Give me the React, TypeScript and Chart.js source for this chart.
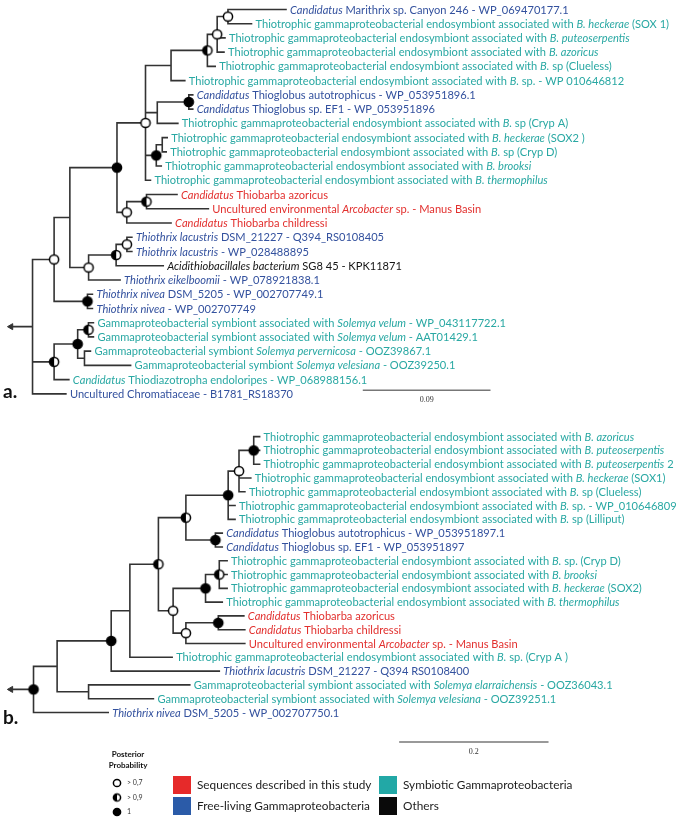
import { useEffect, useRef } from 'react';
import { Chart, registerables } from 'chart.js';
Chart.register(...registerables);

// ---------------- DATA ----------------
const TG = 'Thiotrophic gammaproteobacterial endosymbiont associated with ';
const GS = 'Gammaproteobacterial symbiont ';

// Tree a (Newick; tips = index into treeALabels; node labels = posterior class o:>0.7 h:>0.9 f:1)
const treeANewick = `(
 ((
   (
    (
     ((((0:0.0409,1:0.0166)o:0.0076,2:0.0055,3:0.0048)o:0.0069,4:0.0055)h:0.0256,5:0.0097):0.0180,
     ((6:0.0028,7:0.0028)f:0.0222,8:0.0145):0.0083,
     ((9:0.0035,10:0.0028):0.0042,11:0.0035)f:0.0076,
     12:0.0035
    )o:0.0201,
    ((13:0.0215,14:0.0436)h:0.0139,15:0.0312)o:0.0069
   )f:0.0332,
   (((16:0.0035,17:0.0035)o:0.0076,18:0.0332)h:0.0194,19:0.0222)o:0.0132
  ):0.0111,
  (20:0.0035,21:0.0035)f:0.0235
 )o:0.0152,
 (((22:0.0035,23:0.0035)h:0.0076,(24:0.0042,25:0.0325):0.0048)f:0.0166,26:0.0104)h:0.0152,
 27:0.0235
)`;

const treeALabels = [
  '*Candidatus* Marithrix sp. Canyon 246 - WP_069470177.1',
  TG + '*B. heckerae* (SOX 1)',
  TG + '*B. puteoserpentis*',
  TG + '*B. azoricus*',
  TG + '*B.* sp (Clueless)',
  TG + '*B.* sp. - WP 010646812',
  '*Candidatus* Thioglobus autotrophicus - WP_053951896.1',
  '*Candidatus* Thioglobus sp. EF1 - WP_053951896',
  TG + '*B.* sp (Cryp A)',
  TG + '*B. heckerae* (SOX2 )',
  TG + '*B.* sp (Cryp D)',
  TG + '*B. brooksi*',
  TG + '*B. thermophilus*',
  '*Candidatus* Thiobarba azoricus',
  'Uncultured environmental *Arcobacter* sp. - Manus Basin',
  '*Candidatus* Thiobarba childressi',
  '*Thiothrix lacustris* DSM_21227 - Q394_RS0108405',
  '*Thiothrix lacustris* - WP_028488895',
  '*Acidithiobacillales bacterium* SG8 45 - KPK11871',
  '*Thiothrix eikelboomii* - WP_078921838.1',
  '*Thiothrix nivea* DSM_5205 - WP_002707749.1',
  '*Thiothrix nivea* - WP_002707749',
  GS + 'associated with *Solemya velum* - WP_043117722.1',
  GS + 'associated with *Solemya velum* - AAT01429.1',
  GS + '*Solemya pervernicosa* - OOZ39867.1',
  GS + '*Solemya velesiana* - OOZ39250.1',
  '*Candidatus* Thiodiazotropha endoloripes - WP_068988156.1',
  'Uncultured Chromatiaceae - B1781_RS18370',
];
const treeAGroups = ['F','S','S','S','S','S','F','F','S','S','S','S','S','R','R','R','F','F','O','F','F','F','S','S','S','S','S','F'];

const treeBNewick = `(
 (
  (
   (
    (
     (
      (((0:0.0079,1:0.0079,2:0.0079)f:0.0197,3:0.0158,4:0.0079)o:0.0145,5:0.0092,6:0.0092)f:0.0566,
      (7:0.0092,8:0.0092)f:0.0395
     )h:0.0368,
     (
      ((9:0.0105,10:0.0105,11:0.0105)h:0.0184,12:0.0224)f:0.0434,
      ((13:0.0342,14:0.0355)f:0.0434,15:0.0789)o:0.0171
     )o:0.0197
    )h:0.0382,
    16:0.0566
   ):0.0250,
   17:0.1447
  )f:0.0724,
  (18:0.1355,19:0.0868):0.0421
 ):0.0316,
 20:0.1000
)f`;

const treeBLabels = [
  TG + '*B. azoricus*',
  TG + '*B. puteoserpentis*',
  TG + '*B. puteoserpentis* 2',
  TG + '*B. heckerae* (SOX1)',
  TG + '*B.* sp (Clueless)',
  TG + '*B.* sp. - WP_010646809',
  TG + '*B.* sp (Lilliput)',
  '*Candidatus* Thioglobus autotrophicus - WP_053951897.1',
  '*Candidatus* Thioglobus sp. EF1 - WP_053951897',
  TG + '*B.* sp. (Cryp D)',
  TG + '*B. brooksi*',
  TG + '*B. heckerae* (SOX2)',
  TG + '*B. thermophilus*',
  '*Candidatus* Thiobarba azoricus',
  '*Candidatus* Thiobarba childressi',
  'Uncultured environmental *Arcobacter* sp. - Manus Basin',
  TG + '*B.* sp. (Cryp A )',
  '*Thiothrix lacustris* DSM_21227 - Q394 RS0108400',
  GS + 'associated with *Solemya elarraichensis* - OOZ36043.1',
  GS + 'associated with *Solemya velesiana* - OOZ39251.1',
  '*Thiothrix nivea* DSM_5205 - WP_002707750.1',
];
const treeBGroups = ['S','S','S','S','S','S','S','F','F','S','S','S','S','R','R','R','S','F','S','S','F'];

const scaleBarA = 0.09;
const scaleBarB = 0.2;
const groupKeys = ['R', 'F', 'S', 'O'];
const groupNames = ['Sequences described in this study', 'Free-living Gammaproteobacteria', 'Symbiotic Gammaproteobacteria', 'Others'];
const supportKeys = ['o', 'h', 'f'];
const supportNames = ['> 0,7', '> 0,9', '1'];

// ---------------- STYLE / LAYOUT ----------------
const W = 698, H = 818;
const FONT = '"Lato", "Noto Sans", sans-serif';
const LABEL_SIZE = 11.1;
const TEXT_COLORS: Record<string, string> = { S: '#29a8a3', F: '#33519e', R: '#e2302e', O: '#151515' };
const BOX_COLORS: Record<string, string> = { R: '#e62a2a', F: '#2b5ba8', S: '#22a8a6', O: '#0a0a0a' };
const LINE = '#333333';
const LAY = {
  a: { rootPx: 27, ppu: 1444, row0: 3.5, rowPx: 14.45, stub: 0.0152, barX: 0.2327, barRow: 26.75 },
  b: { rootPx: 28, ppu: 760, row0: 437, rowPx: 14.0, stub: 0.0303, barX: 0.4895, barRow: 22.14 },
};

type TNode = { children: TNode[]; len: number; leaf?: number; support?: string; x: number; y: number };

function parseNewick(src: string): TNode {
  const s = src.replace(/\s+/g, '');
  let i = 0;
  const node = (): TNode => {
    const n: TNode = { children: [], len: 0, x: 0, y: 0 };
    if (s[i] === '(') {
      i++;
      n.children.push(node());
      while (s[i] === ',') { i++; n.children.push(node()); }
      i++;
    }
    let label = '';
    while (i < s.length && !':,)'.includes(s[i])) label += s[i++];
    if (n.children.length === 0) n.leaf = parseInt(label, 10); else n.support = label;
    if (s[i] === ':') {
      i++;
      let num = '';
      while (i < s.length && !',)'.includes(s[i])) num += s[i++];
      n.len = parseFloat(num);
    }
    return n;
  };
  return node();
}

function layoutTree(n: TNode, x0: number) {
  n.x = x0 + n.len;
  if (n.children.length) {
    n.children.forEach((c) => layoutTree(c, n.x));
    n.y = (n.children[0].y + n.children[n.children.length - 1].y) / 2;
  } else n.y = n.leaf as number;
}

function collect(root: TNode, stub: number) {
  const lines: any[] = [];
  const nodes: any[] = [];
  const leaves: TNode[] = [];
  const gap = { x: null, y: null };
  lines.push({ x: root.x - stub, y: root.y }, { x: root.x, y: root.y }, gap);
  const walk = (n: TNode) => {
    if (!n.children.length) { leaves.push(n); return; }
    const f = n.children[0], l = n.children[n.children.length - 1];
    lines.push({ x: f.x, y: f.y }, { x: n.x, y: f.y }, { x: n.x, y: l.y }, { x: l.x, y: l.y }, gap);
    n.children.slice(1, -1).forEach((c) => lines.push({ x: n.x, y: c.y }, { x: c.x, y: c.y }, gap));
    if (n.support) nodes.push({ x: n.x, y: n.y, s: n.support });
    n.children.forEach(walk);
  };
  walk(root);
  return { lines, nodes, leaves, arrow: [{ x: root.x - stub, y: root.y }] };
}

function makeIcon(kind: string, r = 4.6) {
  const c = document.createElement('canvas');
  const size = Math.ceil(r * 2 + 4);
  c.width = size; c.height = size;
  const g = c.getContext('2d')!;
  const m = size / 2;
  g.beginPath(); g.arc(m, m, r, 0, Math.PI * 2);
  g.fillStyle = kind === 'f' ? '#000' : '#fff'; g.fill();
  if (kind === 'h') {
    g.beginPath(); g.moveTo(m, m - r); g.arc(m, m, r, -Math.PI / 2, Math.PI / 2, true); g.closePath();
    g.fillStyle = '#000'; g.fill();
  }
  g.beginPath(); g.arc(m, m, r, 0, Math.PI * 2);
  g.lineWidth = 1.5; g.strokeStyle = '#000'; g.stroke();
  return c;
}

function drawRich(ctx: CanvasRenderingContext2D, text: string, x: number, y: number, size: number, color: string) {
  let cx = x;
  text.split('*').forEach((p, i) => {
    if (!p) return;
    ctx.font = `${i % 2 ? 'italic ' : ''}${size}px ${FONT}`;
    ctx.fillStyle = color;
    ctx.fillText(p, cx, y);
    cx += ctx.measureText(p).width;
  });
}

export default function App() {
  const ref = useRef<HTMLCanvasElement>(null);
  useEffect(() => {
    const rootA = parseNewick(treeANewick); layoutTree(rootA, -rootA.len);
    const rootB = parseNewick(treeBNewick); layoutTree(rootB, -rootB.len);
    const A = collect(rootA, LAY.a.stub);
    const B = collect(rootB, LAY.b.stub);
    const icons: Record<string, HTMLCanvasElement> = { o: makeIcon('o'), h: makeIcon('h'), f: makeIcon('f') };
    const iconsSmall: Record<string, HTMLCanvasElement> = { o: makeIcon('o', 3.6), h: makeIcon('h', 3.6), f: makeIcon('f', 3.6) };

    const labelPlugin = {
      id: 'treeText',
      afterDatasetsDraw(chart: any) {
        const ctx: CanvasRenderingContext2D = chart.ctx;
        const s = chart.scales;
        ctx.save();
        ctx.textBaseline = 'middle';
        ctx.textAlign = 'left';
        const trees = [
          { d: A, xs: s.xa, ys: s.ya, labels: treeALabels, groups: treeAGroups },
          { d: B, xs: s.xb, ys: s.yb, labels: treeBLabels, groups: treeBGroups },
        ];
        trees.forEach((t) => {
          t.d.leaves.forEach((lf) => {
            const i = lf.leaf as number;
            drawRich(ctx, t.labels[i], t.xs.getPixelForValue(lf.x) + 4, t.ys.getPixelForValue(lf.y) + 0.5, LABEL_SIZE, TEXT_COLORS[t.groups[i]]);
          });
        });
        // scale bar labels
        ctx.textAlign = 'center';
        ctx.fillStyle = '#333';
        ctx.font = '8px "Liberation Serif", serif';
        const bars = [
          { xs: s.xa, ys: s.ya, x: LAY.a.barX, row: LAY.a.barRow, v: scaleBarA },
          { xs: s.xb, ys: s.yb, x: LAY.b.barX, row: LAY.b.barRow, v: scaleBarB },
        ];
        bars.forEach((b) => {
          const cx = (b.xs.getPixelForValue(b.x) + b.xs.getPixelForValue(b.x + b.v)) / 2;
          ctx.fillText(String(b.v), cx, b.ys.getPixelForValue(b.row) + 10);
        });
        // panel letters
        ctx.textAlign = 'left';
        ctx.textBaseline = 'alphabetic';
        ctx.fillStyle = '#111';
        ctx.font = `bold 19px ${FONT}`;
        ctx.fillText('a.', 3, 398);
        ctx.fillText('b.', 3, 724);
        // posterior legend
        ctx.textAlign = 'center';
        ctx.font = `bold 8px ${FONT}`;
        ctx.fillText('Posterior', 128, 757);
        ctx.fillText('Probability', 128, 768);
        ctx.textAlign = 'left';
        ctx.textBaseline = 'middle';
        ctx.font = `7px ${FONT}`;
        ctx.fillStyle = '#333';
        supportKeys.forEach((k, i) => {
          const y = 783 + i * 14.5;
          const ic = iconsSmall[k];
          ctx.drawImage(ic, 117 - ic.width / 2, y - ic.height / 2);
          ctx.fillText(supportNames[i], 127, y);
        });
        // colour legend
        ctx.font = `11.8px ${FONT}`;
        groupKeys.forEach((k, i) => {
          const bx = i < 2 ? 173 : 379;
          const by = i % 2 === 0 ? 776 : 797;
          ctx.fillStyle = BOX_COLORS[k];
          ctx.fillRect(bx, by, 18, 18);
          ctx.fillStyle = '#1c1c1c';
          ctx.fillText(groupNames[i], bx + 24, by + 9.5);
        });
        ctx.restore();
      },
    };

    const lineDs = (data: any[], xID: string, yID: string) => ({
      type: 'line', data, xAxisID: xID, yAxisID: yID, showLine: true, spanGaps: false,
      borderColor: LINE, borderWidth: 1.6, pointRadius: 0, tension: 0, order: 2,
      borderJoinStyle: 'miter', borderCapStyle: 'square',
    });
    const nodeDs = (data: any[], xID: string, yID: string) => ({
      type: 'scatter', data, xAxisID: xID, yAxisID: yID, order: 0,
      pointStyle: (c: any) => icons[c.raw?.s || 'o'], pointRadius: 5,
    });
    const arrowDs = (data: any[], xID: string, yID: string) => ({
      type: 'scatter', data, xAxisID: xID, yAxisID: yID, order: 1,
      pointStyle: 'triangle', rotation: -90, pointRadius: 3.5,
      backgroundColor: LINE, borderColor: LINE, borderWidth: 1,
    });
    const barDs = (x: number, row: number, v: number, xID: string, yID: string) => ({
      type: 'line', data: [{ x, y: row }, { x: x + v, y: row }], xAxisID: xID, yAxisID: yID,
      showLine: true, borderColor: '#777', borderWidth: 1.5, pointRadius: 0, order: 2,
    });

    const chart = new Chart(ref.current!, {
      type: 'scatter',
      data: {
        datasets: [
          lineDs(A.lines, 'xa', 'ya'),
          lineDs(B.lines, 'xb', 'yb'),
          arrowDs(A.arrow, 'xa', 'ya'),
          arrowDs(B.arrow, 'xb', 'yb'),
          nodeDs(A.nodes, 'xa', 'ya'),
          nodeDs(B.nodes, 'xb', 'yb'),
          barDs(LAY.a.barX, LAY.a.barRow, scaleBarA, 'xa', 'ya'),
          barDs(LAY.b.barX, LAY.b.barRow, scaleBarB, 'xb', 'yb'),
        ] as any,
      },
      options: {
        animation: false,
        responsive: false,
        devicePixelRatio: 1,
        events: [],
        layout: { padding: 0 },
        plugins: { legend: { display: false }, tooltip: { enabled: false } },
        scales: {
          xa: { type: 'linear', display: false, bounds: 'data', min: -LAY.a.rootPx / LAY.a.ppu, max: (W - LAY.a.rootPx) / LAY.a.ppu },
          ya: { type: 'linear', display: false, bounds: 'data', reverse: true, min: -LAY.a.row0 / LAY.a.rowPx, max: (H - LAY.a.row0) / LAY.a.rowPx },
          xb: { type: 'linear', display: false, bounds: 'data', min: -LAY.b.rootPx / LAY.b.ppu, max: (W - LAY.b.rootPx) / LAY.b.ppu },
          yb: { type: 'linear', display: false, bounds: 'data', reverse: true, min: -LAY.b.row0 / LAY.b.rowPx, max: (H - LAY.b.row0) / LAY.b.rowPx },
        },
      } as any,
      plugins: [labelPlugin],
    });
    return () => chart.destroy();
  }, []);
  return (
    <div style={{ position: 'absolute', left: 0, top: 0, width: W, height: H, background: '#fff' }}>
      <canvas ref={ref} width={W} height={H} style={{ display: 'block', width: W, height: H }} />
    </div>
  );
}
